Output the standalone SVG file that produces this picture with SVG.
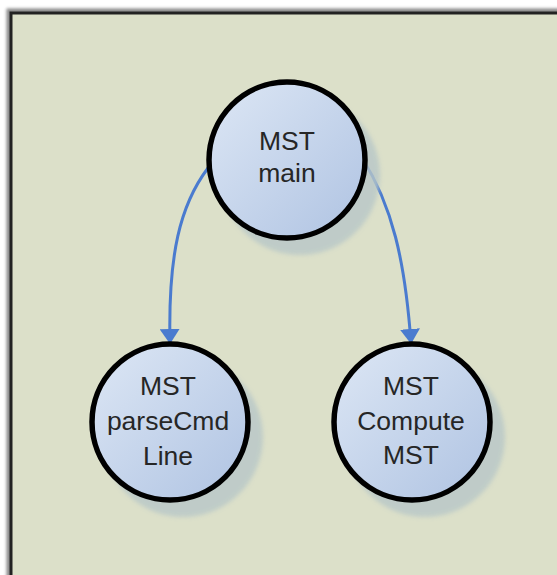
<svg xmlns="http://www.w3.org/2000/svg" width="557" height="575" viewBox="0 0 557 575">
  <defs>
    <linearGradient id="nodeFill" x1="0" y1="0" x2="1" y2="1">
      <stop offset="0" stop-color="#dde7f5"/>
      <stop offset="1" stop-color="#afc3e2"/>
    </linearGradient>
    <filter id="soft" x="-30%" y="-30%" width="160%" height="160%">
      <feGaussianBlur stdDeviation="2"/>
    </filter>
    <filter id="frameShadow" x="-5%" y="-5%" width="110%" height="110%">
      <feGaussianBlur stdDeviation="1.5"/>
    </filter>
    <marker id="arrow" viewBox="0 0 15 20" refX="14" refY="10" markerWidth="15" markerHeight="20" markerUnits="userSpaceOnUse" orient="auto">
      <path d="M0,0 L15,10 L0,20 Z" fill="#4a7bcf"/>
    </marker>
    <style>
      .node-shadow { fill: #b8c7c8; opacity: 0.8; filter: url(#soft); }
      .node-circle { fill: url(#nodeFill); stroke: #000; stroke-width: 5.5; }
      .label { font-family: "Liberation Sans", Arial, sans-serif; font-size: 26.5px; fill: #262626; text-anchor: middle; }
      .edge { fill: none; stroke: #4a7bcf; stroke-width: 3; marker-end: url(#arrow); }
    </style>
  </defs>

  <rect x="0" y="0" width="557" height="575" fill="#ffffff"/>
  <g id="frame">
    <rect x="9" y="11" width="560" height="580" fill="none" stroke="#888" stroke-width="5" filter="url(#frameShadow)"/>
    <rect x="11" y="13" width="560" height="580" fill="#dce0c9" stroke="#222" stroke-width="3"/>
  </g>

  <g id="connectors">
    <path class="edge" d="M208,168 C180,205 168,255 170,343"/>
    <path class="edge" d="M362,158 C392,205 405,260 411,343"/>
  </g>

  <g id="node-main">
    <circle class="node-shadow" cx="300" cy="175" r="80"/>
    <circle class="node-circle" cx="287" cy="160" r="78"/>
    <text class="label" x="287" y="150">MST</text>
    <text class="label" x="287" y="182">main</text>
  </g>

  <g id="node-parse">
    <circle class="node-shadow" cx="183" cy="437" r="80"/>
    <circle class="node-circle" cx="170" cy="422" r="78"/>
    <text class="label" x="168" y="395">MST</text>
    <text class="label" x="168" y="430">parseCmd</text>
    <text class="label" x="168" y="465">Line</text>
  </g>

  <g id="node-compute">
    <circle class="node-shadow" cx="425" cy="437" r="80"/>
    <circle class="node-circle" cx="412" cy="422" r="78"/>
    <text class="label" x="411" y="395">MST</text>
    <text class="label" x="411" y="430">Compute</text>
    <text class="label" x="411" y="464">MST</text>
  </g>
</svg>
